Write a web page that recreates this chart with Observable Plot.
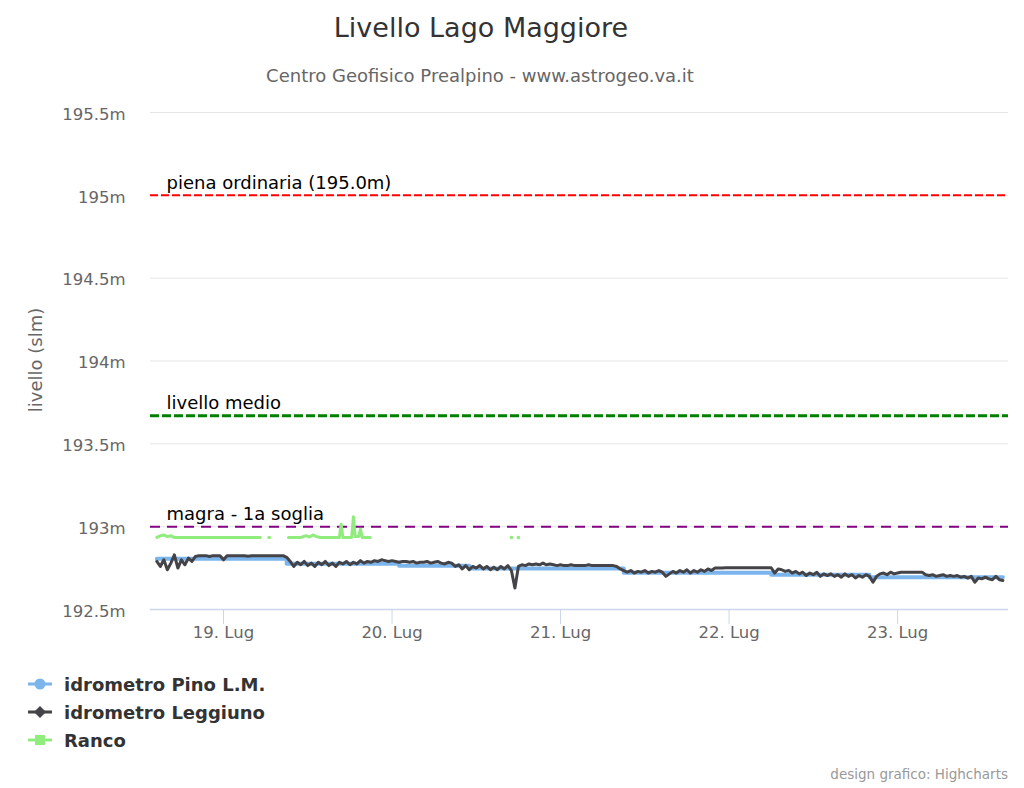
<!DOCTYPE html>
<html>
<head>
<meta charset="utf-8">
<script src="https://cdn.jsdelivr.net/npm/d3@7"></script>
<script src="https://cdn.jsdelivr.net/npm/@observablehq/plot@0.6"></script>
<style>
  body { margin: 0; background: #fff; font-family: "DejaVu Sans", sans-serif; }
  #wrap { position: relative; width: 1024px; height: 788px; overflow: hidden; background: #fff; }
  #title { position: absolute; left: 0; width: 962px; top: 14px; text-align: center; font-size: 27px; line-height: 27px; color: #333; }
  #subtitle { position: absolute; left: 0; width: 960px; top: 67px; text-align: center; font-size: 18px; line-height: 18px; color: #666; }
  #chart { position: absolute; left: 0; top: 95px; }
  #ytitle { position: absolute; left: -64px; top: 349px; width: 200px; text-align: center; font-size: 18px; line-height: 22px; color: #666; transform: rotate(-90deg); transform-origin: 50% 50%; }
  .leg { position: absolute; left: 26px; height: 24px; display: flex; align-items: center; font-size: 18px; font-weight: bold; color: #333; }
  .leg svg { margin-right: 10px; }
  #credits { position: absolute; right: 16px; top: 766px; font-size: 13.5px; line-height: 16px; color: #999; }
</style>
</head>
<body>
<div id="wrap">
  <div id="title">Livello Lago Maggiore</div>
  <div id="subtitle">Centro Geofisico Prealpino - www.astrogeo.va.it</div>
  <div id="chart"></div>
  <div id="ytitle">livello (slm)</div>
  <div id="legend"></div>
  <div id="credits">design grafico: Highcharts</div>
</div>
<script>
// ---------- DATA ----------
const seriesNames = ["idrometro Pino L.M.", "idrometro Leggiuno", "Ranco"];
const seriesColors = ["#7cb5ec", "#434348", "#90ed7d"];

const yTicks = [192.5, 193, 193.5, 194, 194.5, 195, 195.5];
const xTicks = ["2017-07-19", "2017-07-20", "2017-07-21", "2017-07-22", "2017-07-23"];
const xDomain = ["2017-07-18T13:36Z", "2017-07-23T15:48Z"];

const plotLineValues = [195.0, 193.67, 193.0];
const plotLineLabels = ["piena ordinaria (195.0m)", "livello medio", "magra - 1a soglia"];
const plotLineColors = ["#ff0000", "#008000", "#800080"];
const plotLineWidths = [2, 3, 2];
const plotLineDashes = ["8,3", "9,3", "10,7"];

// Pino L.M. (stepped)
const pinoTime = ["2017-07-18T14:30Z", "2017-07-19T09:00Z", "2017-07-20T01:00Z", "2017-07-20T11:00Z",
                  "2017-07-21T09:00Z", "2017-07-22T06:00Z", "2017-07-22T20:00Z", "2017-07-23T15:00Z"];
const pinoValue = [192.806, 192.776, 192.764, 192.748, 192.722, 192.710, 192.694, 192.694];

// Leggiuno: one reading every 30 minutes from 18 Jul 14:30
const leggiunoStart = "2017-07-18T14:30Z";
const leggiunoStepMinutes = 30;
const leggiunoValue = [
  192.790, 192.760, 192.800, 192.740, 192.780, 192.830, 192.750, 192.800, 192.770, 192.810, 192.790, 192.820,
  192.825, 192.825, 192.825, 192.820, 192.825, 192.825, 192.825, 192.800, 192.825, 192.825, 192.825, 192.825,
  192.825, 192.825, 192.822, 192.825, 192.825, 192.825, 192.825, 192.825, 192.825, 192.825, 192.825, 192.825,
  192.825, 192.815, 192.790, 192.760, 192.785, 192.770, 192.790, 192.765, 192.780, 192.760, 192.785, 192.770,
  192.790, 192.765, 192.780, 192.760, 192.785, 192.775, 192.790, 192.770, 192.785, 192.775, 192.795, 192.780,
  192.790, 192.785, 192.795, 192.790, 192.800, 192.795, 192.790, 192.795, 192.790, 192.785, 192.790, 192.790,
  192.785, 192.790, 192.780, 192.785, 192.785, 192.790, 192.780, 192.785, 192.790, 192.780, 192.775, 192.785,
  192.780, 192.760, 192.770, 192.745, 192.765, 192.740, 192.760, 192.750, 192.765, 192.745, 192.760, 192.740,
  192.755, 192.740, 192.760, 192.745, 192.765, 192.735, 192.630, 192.760, 192.770, 192.765, 192.775, 192.770,
  192.775, 192.770, 192.780, 192.770, 192.775, 192.770, 192.765, 192.770, 192.765, 192.765, 192.770, 192.765,
  192.765, 192.765, 192.765, 192.770, 192.765, 192.765, 192.765, 192.765, 192.765, 192.765, 192.765, 192.760,
  192.745, 192.735, 192.725, 192.735, 192.720, 192.730, 192.725, 192.735, 192.720, 192.730, 192.725, 192.735,
  192.725, 192.700, 192.715, 192.730, 192.720, 192.735, 192.725, 192.740, 192.720, 192.735, 192.725, 192.740,
  192.730, 192.745, 192.735, 192.750, 192.750, 192.750, 192.752, 192.752, 192.752, 192.752, 192.752, 192.752,
  192.752, 192.752, 192.752, 192.752, 192.752, 192.752, 192.752, 192.752, 192.720, 192.745, 192.740, 192.730,
  192.735, 192.720, 192.730, 192.715, 192.725, 192.705, 192.720, 192.710, 192.725, 192.700, 192.715, 192.705,
  192.715, 192.700, 192.710, 192.695, 192.715, 192.700, 192.710, 192.690, 192.705, 192.695, 192.710, 192.700,
  192.665, 192.700, 192.715, 192.720, 192.710, 192.725, 192.715, 192.720, 192.725, 192.725, 192.725, 192.725,
  192.725, 192.725, 192.725, 192.710, 192.705, 192.710, 192.700, 192.705, 192.710, 192.700, 192.705, 192.700,
  192.705, 192.695, 192.700, 192.690, 192.700, 192.665, 192.690, 192.685, 192.695, 192.685, 192.680, 192.700,
  192.680, 192.675
];

// Ranco (with gaps)
const rancoTime = [
  "2017-07-18T14:30Z", "2017-07-18T15:00Z", "2017-07-18T15:30Z", "2017-07-18T16:00Z", "2017-07-18T16:30Z",
  "2017-07-18T17:00Z", "2017-07-18T18:00Z", "2017-07-18T21:00Z", "2017-07-19T00:00Z", "2017-07-19T03:00Z",
  "2017-07-19T05:15Z", "2017-07-19T05:45Z",
  "2017-07-19T06:30Z", "2017-07-19T07:00Z",
  "2017-07-19T09:15Z", "2017-07-19T11:00Z", "2017-07-19T11:45Z", "2017-07-19T12:15Z", "2017-07-19T12:45Z",
  "2017-07-19T13:15Z", "2017-07-19T13:45Z", "2017-07-19T15:00Z", "2017-07-19T16:30Z", "2017-07-19T16:45Z",
  "2017-07-19T17:00Z", "2017-07-19T18:15Z", "2017-07-19T18:30Z", "2017-07-19T18:45Z", "2017-07-19T19:15Z",
  "2017-07-19T19:30Z", "2017-07-19T19:45Z", "2017-07-19T20:55Z", "2017-07-19T21:30Z",
  "2017-07-20T17:00Z", "2017-07-20T17:30Z", "2017-07-20T18:00Z"
];
const rancoValue = [
  192.935, 192.945, 192.950, 192.940, 192.945,
  192.935, 192.935, 192.935, 192.935, 192.935,
  192.935, null,
  192.935, null,
  192.935, 192.935, 192.945, 192.938, 192.950,
  192.940, 192.935, 192.935, 192.935, 193.015,
  192.935, 192.935, 193.060, 192.940, 192.940,
  192.985, 192.935, 192.935, null,
  192.935, null, 192.935
];

// ---------- BUILD ----------
const pino = pinoTime.map((t, i) => ({t: new Date(t), v: pinoValue[i]}));
const t0 = new Date(leggiunoStart).getTime();
const leggiuno = leggiunoValue.map((v, i) => ({t: new Date(t0 + i * leggiunoStepMinutes * 60000), v}));
const ranco = rancoTime.map((t, i) => ({t: new Date(t), v: rancoValue[i]}));
const rancoIsolated = ranco.filter((d, i) => d.v != null &&
  (i === 0 || ranco[i - 1].v == null) && (i === ranco.length - 1 || ranco[i + 1].v == null));
const plotLines = plotLineValues.map((v, i) => ({v, label: plotLineLabels[i], color: plotLineColors[i],
  w: plotLineWidths[i], dash: plotLineDashes[i]}));

const fmtDay = d3.utcFormat("%-d");

const chart = Plot.plot({
  width: 1024,
  height: 565,
  marginLeft: 150,
  marginRight: 16,
  marginTop: 17,
  marginBottom: 51,
  style: {fontFamily: "DejaVu Sans, sans-serif", fontSize: "16.5px", background: "#fff", overflow: "visible"},
  x: {type: "utc", domain: xDomain.map(d => new Date(d))},
  y: {domain: [192.5, 195.5]},
  marks: [
    Plot.gridY(yTicks, {stroke: "#e6e6e6", strokeOpacity: 1, strokeWidth: 1}),
    Plot.ruleY([192.5], {stroke: "#ccd6eb", strokeWidth: 1.5}),
    Plot.axisY(yTicks, {tickSize: 0, tickPadding: 25, dy: 2, tickFormat: d => d + "m", fill: "#666",
      fontSize: 16.5, label: null}),
    Plot.axisX(xTicks.map(d => new Date(d)), {tickSize: 15, tickPadding: 2, stroke: "#ccd6eb", fill: "#666",
      fontSize: 16.5, tickFormat: d => fmtDay(d) + ". Lug", label: null}),
    ...plotLines.map(p => Plot.ruleY([p.v], {stroke: p.color, strokeWidth: p.w, strokeDasharray: p.dash})),
    Plot.text(plotLines, {y: "v", text: "label", frameAnchor: "left", dx: 16, dy: -12, textAnchor: "start",
      lineAnchor: "middle", fill: "#000", fontSize: 18}),
    Plot.line(pino, {x: "t", y: "v", curve: "step-after", stroke: seriesColors[0], strokeWidth: 4}),
    Plot.line(leggiuno, {x: "t", y: "v", stroke: seriesColors[1], strokeWidth: 3, strokeLinejoin: "round"}),
    Plot.line(ranco, {x: "t", y: "v", stroke: seriesColors[2], strokeWidth: 3, strokeLinejoin: "round"}),
    Plot.dot(rancoIsolated, {x: "t", y: "v", r: 1.8, fill: seriesColors[2], stroke: "none"})
  ]
});
document.getElementById("chart").appendChild(chart);

// ---------- LEGEND ----------
const legend = document.getElementById("legend");
const markers = [
  c => `<circle cx="14" cy="12" r="5.5" fill="${c}"/>`,
  c => `<path d="M14 6 L20 12 L14 18 L8 12 Z" fill="${c}"/>`,
  c => `<rect x="9" y="7" width="10" height="10" fill="${c}"/>`
];
const legendTops = [672, 700, 728];
seriesNames.forEach((name, i) => {
  const div = document.createElement("div");
  div.className = "leg";
  div.style.top = legendTops[i] + "px";
  div.innerHTML = `<svg width="28" height="24"><line x1="2" x2="26" y1="12" y2="12" stroke="${seriesColors[i]}" stroke-width="3"/>${markers[i](seriesColors[i])}</svg><span>${name}</span>`;
  legend.appendChild(div);
});
</script>
</body>
</html>
